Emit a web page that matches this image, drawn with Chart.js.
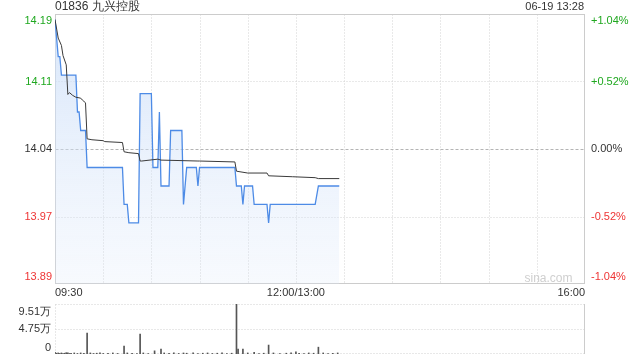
<!DOCTYPE html>
<html><head><meta charset="utf-8">
<script src="https://cdn.jsdelivr.net/npm/chart.js@4.4.1/dist/chart.umd.min.js"></script>
<style>
html,body{margin:0;padding:0;background:#fff;}
#wrap{position:relative;width:640px;height:360px;overflow:hidden;}
canvas{position:absolute;left:0;top:0;}
</style></head><body>
<div id="wrap"><canvas id="main" width="640" height="360"></canvas><canvas id="vol" width="640" height="360"></canvas></div>
<script>
const titleText = '01836 九兴控股';
const stampText = '06-19 13:28';
const watermark = 'sina.com';
const prevClose = 14.04;
const pctSteps = [1.04, 0.52, 0, -0.52, -1.04];
const pctLabels = ['+1.04%', '+0.52%', '0.00%', '-0.52%', '-1.04%'];
const timeLabels = ['09:30', '12:00/13:00', '16:00'];
const timeLabelMinutes = [0, 150, 330];
const gridMinutes = [30, 60, 90, 120, 150, 180, 210, 240, 270, 300];
const totalMinutes = 330;

// price (blue) line: minute index from 09:30 (lunch break removed) and price
const priceMinutes = [0,2,3,4,13,14,15,16,19,20,42,43,45,46,52,53,60,61,64,65,66,71,72,79,80,82,88,89,90,112,113,116,117,118,123,124,132,133,134,162,164,177];
const prices = [14.18,14.14,14.14,14.12,14.12,14.08,14.08,14.06,14.06,14.02,14.02,13.98,13.98,13.96,13.96,14.10,14.10,14.02,14.02,14.08,14.00,14.00,14.06,14.06,13.98,14.02,14.02,14.00,14.02,14.02,14.00,14.00,13.98,14.00,14.00,13.98,13.98,13.96,13.98,13.98,14.00,14.00];

// average price (black) line
const avgMinutes = [0,2,4,5,7,8,9,11,13,16,17,19,20,23,30,31,42,43,46,52,53,54,64,66,89,90,112,113,120,132,133,148,162,164,177];
const avgPrices = [14.180,14.160,14.152,14.141,14.131,14.099,14.101,14.098,14.096,14.095,14.093,14.090,14.051,14.050,14.049,14.048,14.047,14.037,14.036,14.035,14.027,14.027,14.029,14.028,14.027,14.027,14.026,14.016,14.014,14.014,14.011,14.010,14.009,14.008,14.008];

// volume (万股)
const volMinutes = [0,1,2,3,4,5,6,7,8,9,10,12,14,16,18,20,22,24,26,28,30,33,36,39,43,45,48,51,53,55,58,62,66,68,71,74,77,80,82,86,89,92,95,98,101,104,107,110,113,114,117,120,124,127,130,133,136,140,144,147,150,152,155,158,161,164,167,170,173,176];
const volumes = [0.3,0.15,0.2,0.1,0.2,0.1,0.15,0.25,0.2,0.1,0.15,0.2,0.1,0.2,0.15,4.0,0.2,0.1,0.15,0.2,0.1,0.15,0.2,0.1,1.5,0.2,0.15,0.1,3.8,0.2,0.1,0.6,0.95,0.2,0.15,0.2,0.1,0.2,0.15,0.2,0.1,0.15,0.2,0.1,0.15,0.2,0.1,0.15,9.51,0.95,0.95,0.2,0.3,0.1,0.15,1.7,0.2,0.1,0.15,0.2,0.4,0.15,0.1,0.2,0.15,1.3,0.2,0.1,0.15,0.2];
const volTickValues = [9.51, 4.75, 0];
const volTickLabels = ['9.51万', '4.75万', '0'];

const tickPrices = pctSteps.map(p => prevClose * (1 + p / 100));
const priceMin = tickPrices[tickPrices.length - 1];
const priceMax = tickPrices[0];

const FONT = '"Liberation Sans", Arial, sans-serif';
const GREEN = '#1fa81f', RED = '#ee3434', DARK = '#333333';
function colorFor(p){ return p > 0 ? GREEN : (p < 0 ? RED : DARK); }

function hline(ctx, x1, x2, y){ ctx.beginPath(); ctx.moveTo(x1, y); ctx.lineTo(x2, y); ctx.stroke(); }
function vline(ctx, x, y1, y2){ ctx.beginPath(); ctx.moveTo(x, y1); ctx.lineTo(x, y2); ctx.stroke(); }

const mainDecor = {
  id: 'mainDecor',
  beforeDatasetsDraw(chart){
    const {ctx, chartArea: a, scales: {x, y}} = chart;
    const L = Math.round(a.left) + 0.5, R = Math.round(a.right) - 0.5;
    const T = Math.round(a.top) + 0.5, B = Math.round(a.bottom) - 0.5;
    ctx.save();
    ctx.lineWidth = 1;
    ctx.strokeStyle = '#d2d2d2';
    ctx.setLineDash([1, 2]);
    gridMinutes.forEach(m => { const px = Math.round(x.getPixelForValue(m)) + 0.5; vline(ctx, px, T, B); });
    pctSteps.forEach((p, i) => {
      if (i === 0 || i === pctSteps.length - 1 || p === 0) return;
      const py = Math.round(y.getPixelForValue(tickPrices[i])) + 0.5; hline(ctx, L, R, py);
    });
    ctx.strokeStyle = '#b4b4b4';
    ctx.setLineDash([3, 2]);
    hline(ctx, L, R, Math.round(y.getPixelForValue(prevClose)) + 0.5);
    ctx.setLineDash([]);
    ctx.strokeStyle = '#cccccc';
    ctx.strokeRect(L, T, R - L, B - T);
    // watermark
    ctx.font = '12px ' + FONT;
    ctx.fillStyle = '#cfcfcf';
    ctx.textAlign = 'right'; ctx.textBaseline = 'middle';
    ctx.fillText(watermark, R - 12, B - 5);
    ctx.restore();
  },
  afterDraw(chart){
    const {ctx, chartArea: a, scales: {x, y}} = chart;
    ctx.save();
    ctx.font = '11px ' + FONT;
    ctx.textBaseline = 'middle';
    pctSteps.forEach((p, i) => {
      let py = y.getPixelForValue(tickPrices[i]);
      if (i === 0) py += 7;
      if (i === pctSteps.length - 1) py -= 7;
      ctx.fillStyle = colorFor(p);
      ctx.textAlign = 'right';
      ctx.fillText(tickPrices[i].toFixed(2), a.left - 3, py);
      ctx.textAlign = 'left';
      ctx.fillText(pctLabels[i], a.right + 6, py);
    });
    ctx.fillStyle = DARK;
    timeLabels.forEach((t, i) => {
      const px = x.getPixelForValue(timeLabelMinutes[i]);
      ctx.textAlign = i === 0 ? 'left' : (i === timeLabels.length - 1 ? 'right' : 'center');
      ctx.fillText(t, px, a.bottom + 9);
    });
    ctx.font = '12px ' + FONT;
    ctx.textAlign = 'left';
    ctx.fillText(titleText, a.left, 7);
    ctx.font = '11px ' + FONT;
    ctx.textAlign = 'right';
    ctx.fillText(stampText, a.right - 1, 7);
    ctx.restore();
  }
};

new Chart(document.getElementById('main'), {
  type: 'line',
  data: {
    datasets: [
      {
        label: 'avg',
        data: avgMinutes.map((m, i) => ({x: m, y: avgPrices[i]})),
        borderColor: '#3a3a3a', borderWidth: 1, pointRadius: 0, fill: false, tension: 0
      },
      {
        label: 'price',
        data: priceMinutes.map((m, i) => ({x: m, y: prices[i]})),
        borderColor: '#4d8be6', borderWidth: 1.3, pointRadius: 0, tension: 0,
        fill: 'start',
        backgroundColor(ctx){
          const a = ctx.chart.chartArea;
          if (!a) return 'rgba(210,225,248,0.5)';
          const g = ctx.chart.ctx.createLinearGradient(0, a.top, 0, a.bottom);
          g.addColorStop(0, 'rgba(200,220,248,0.72)');
          g.addColorStop(1, 'rgba(220,232,250,0.22)');
          return g;
        }
      }
    ]
  },
  options: {
    responsive: false, animation: false,
    layout: {padding: {left: 55, top: 14, right: 55, bottom: 76}},
    scales: {
      x: {type: 'linear', min: 0, max: totalMinutes, display: false},
      y: {type: 'linear', min: priceMin, max: priceMax, display: false}
    },
    plugins: {legend: {display: false}, tooltip: {enabled: false}}
  },
  plugins: [mainDecor]
});

const volDecor = {
  id: 'volDecor',
  beforeDatasetsDraw(chart){
    const {ctx, chartArea: a, scales: {y}} = chart;
    const L = Math.round(a.left) + 0.5, R = Math.round(a.right) - 0.5;
    ctx.save();
    ctx.lineWidth = 1;
    ctx.strokeStyle = '#d0d0d0';
    ctx.setLineDash([1, 2]);
    volTickValues.forEach(v => { const py = Math.round(y.getPixelForValue(v)) + (v === 0 ? -0.5 : 0.5); hline(ctx, L, R, py); });
    vline(ctx, L, Math.round(a.top) + 0.5, Math.round(a.bottom));
    ctx.setLineDash([]);
    ctx.strokeStyle = '#cccccc';
    vline(ctx, R, Math.round(a.top), Math.round(a.bottom));
    ctx.restore();
  },
  afterDraw(chart){
    const {ctx, chartArea: a, scales: {y}} = chart;
    ctx.save();
    ctx.font = '11px ' + FONT;
    ctx.fillStyle = DARK;
    ctx.textAlign = 'right'; ctx.textBaseline = 'middle';
    volTickValues.forEach((v, i) => {
      let py = y.getPixelForValue(v);
      if (i === 0) py += 8;
      if (i === volTickValues.length - 1) py -= 6;
      ctx.fillText(volTickLabels[i], a.left - 4, py);
    });
    ctx.restore();
  }
};

new Chart(document.getElementById('vol'), {
  type: 'bar',
  data: {
    datasets: [{
      data: volMinutes.map((m, i) => ({x: m, y: volumes[i]})),
      backgroundColor: '#555555', barThickness: 1, borderWidth: 0
    }]
  },
  options: {
    responsive: false, animation: false,
    layout: {padding: {left: 55, top: 304, right: 55, bottom: 6}},
    scales: {
      x: {type: 'linear', min: 0, max: totalMinutes, display: false, offset: false},
      y: {type: 'linear', min: 0, max: volTickValues[0], display: false}
    },
    plugins: {legend: {display: false}, tooltip: {enabled: false}}
  },
  plugins: [volDecor]
});
</script>
</body></html>
